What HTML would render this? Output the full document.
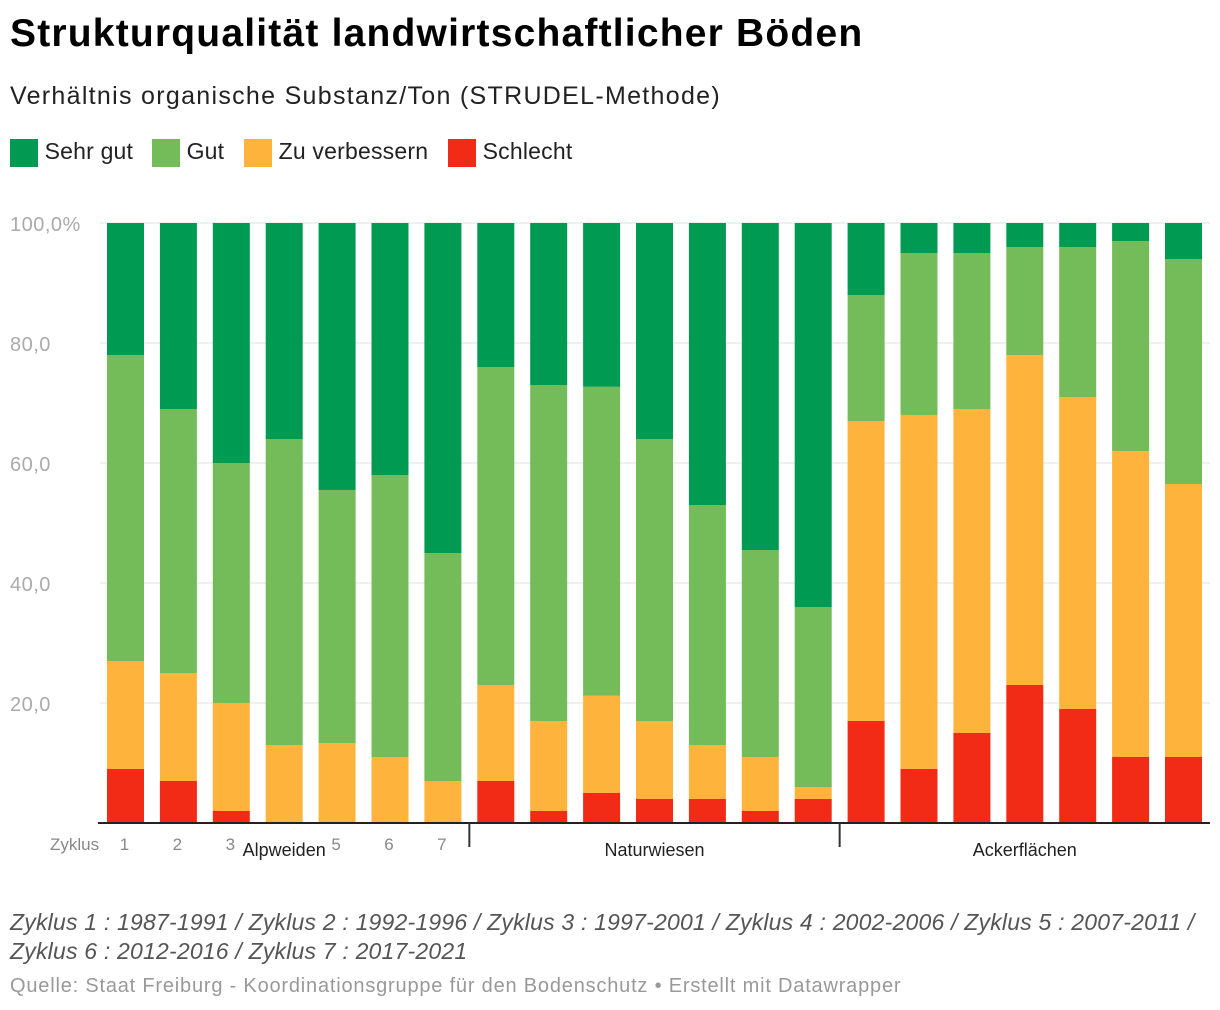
<!DOCTYPE html>
<html><head><meta charset="utf-8">
<style>
body{margin:0;width:1220px;height:1010px;background:#fff;font-family:"Liberation Sans",sans-serif;overflow:hidden;position:relative}
.t{position:absolute;white-space:nowrap}
</style></head><body>
<div class="t" style="left:10px;top:12px;font-size:39px;font-weight:bold;color:#000;letter-spacing:1.2px">Strukturqualität landwirtschaftlicher Böden</div>
<div class="t" style="left:10px;top:82px;font-size:25px;color:#222;letter-spacing:1.3px">Verhältnis organische Substanz/Ton (STRUDEL-Methode)</div>
<div style="position:absolute;left:10px;top:138px;font-size:23px;color:#222;letter-spacing:0.2px">
 <span style="position:absolute;left:0;top:0;white-space:nowrap"><span style="display:inline-block;width:28px;height:28px;background:#009a52;vertical-align:middle"></span> Sehr gut</span>
 <span style="position:absolute;left:142px;top:0;white-space:nowrap"><span style="display:inline-block;width:28px;height:28px;background:#74bc5a;vertical-align:middle"></span> Gut</span>
 <span style="position:absolute;left:234px;top:0;white-space:nowrap"><span style="display:inline-block;width:28px;height:28px;background:#fdb33c;vertical-align:middle"></span> Zu verbessern</span>
 <span style="position:absolute;left:438px;top:0;white-space:nowrap"><span style="display:inline-block;width:28px;height:28px;background:#f22b16;vertical-align:middle"></span> Schlecht</span>
</div>
<svg id="chart" width="1220" height="880" style="position:absolute;left:0;top:0" font-family="Liberation Sans, sans-serif"></svg>
<div class="t" style="left:10px;top:908px;font-size:23px;font-style:italic;color:#555;line-height:29px;letter-spacing:0.2px">Zyklus 1 : 1987-1991 / Zyklus 2 : 1992-1996 / Zyklus 3 : 1997-2001 / Zyklus 4 : 2002-2006 / Zyklus 5 : 2007-2011 /<br>Zyklus 6 : 2012-2016 / Zyklus 7 : 2017-2021</div>
<div class="t" style="left:10px;top:975px;font-size:20px;color:#999;letter-spacing:0.8px">Quelle: Staat Freiburg - Koordinationsgruppe für den Bodenschutz • Erstellt mit Datawrapper</div>
<script>
const schlecht=[9,7,2,0,0,0,0,7,2,5,4,4,2,4,17,9,15,23,19,11,11];
const zuVerbessern=[18,18,18,13,13.3,11,7,16,15,16.2,13,9,9,2,50,59,54,55,52,51,45.5];
const gut=[51,44,40,51,42.2,47,38,53,56,51.5,47,40,34.5,30,21,27,26,18,25,35,37.5];
const sehrGut=[22,31,40,36,44.5,42,55,24,27,27.3,36,47,54.5,64,12,5,5,4,4,3,6];
const cycleLabels=["1","2","3","4","5","6","7"];
const groups=["Alpweiden","Naturwiesen","Ackerflächen"];
const yTicks=[0,20,40,60,80,100];
const tickLabels=["","20,0","40,0","60,0","80,0","100,0%"];
const svg=document.getElementById('chart');
const NS='http://www.w3.org/2000/svg';
const y=v=>823-v*6;
const x=i=>107+i*52.9;
const bw=37;
function mk(tag,attrs){const e=document.createElementNS(NS,tag);for(const k in attrs)e.setAttribute(k,attrs[k]);svg.appendChild(e);return e;}
yTicks.forEach((t,i)=>{
 if(t>0){const l=mk('line',{x1:100,x2:1210,y1:y(t),y2:y(t),stroke:'#e2e2e2','stroke-width':1});
 
 }
 if(tickLabels[i]){const tx=mk('text',{x:10,y:y(t)+8,fill:'#aaa','font-size':20,'letter-spacing':0.5});tx.textContent=tickLabels[i];
 
 }
});
const series=[[schlecht,'#f22b16','schlecht'],[zuVerbessern,'#fdb33c','zu-verbessern'],[gut,'#74bc5a','gut'],[sehrGut,'#009a52','sehr-gut']];
for(let i=0;i<schlecht.length;i++){
 let base=0;
 series.forEach(([arr,c,n])=>{
  const v=arr[i];
  if(v>0){const r=mk('rect',{x:x(i),y:y(base+v),width:bw,height:v*6,fill:c});
  
  }
  base+=v;
 });
}
const ax=mk('line',{x1:98,x2:1210,y1:823,y2:823,stroke:'#222','stroke-width':2});


const zy=mk('text',{x:50,y:850,fill:'#888','font-size':17});zy.textContent='Zyklus';


cycleLabels.forEach((c,i)=>{
 const t=mk('text',{x:x(i)+bw/2-1,y:850,fill:'#888','font-size':17,'text-anchor':'middle'});t.textContent=c;
 
 
});
[6.5,13.5].forEach(p=>{
 const l=mk('line',{x1:x(p)+bw/2,x2:x(p)+bw/2,y1:823,y2:847,stroke:'#333','stroke-width':2});
 
 
});
groups.forEach((g,k)=>{
 const c=(x(k*7)+x(k*7+6)+bw)/2;
 const bg=mk('rect',{x:c-46,y:836,width:92,height:26,fill:'#fff'});
 
 
 const t=mk('text',{x:c,y:856,fill:'#222','font-size':18,'text-anchor':'middle'});t.textContent=g;
 
 
});
</script>
</body></html>
